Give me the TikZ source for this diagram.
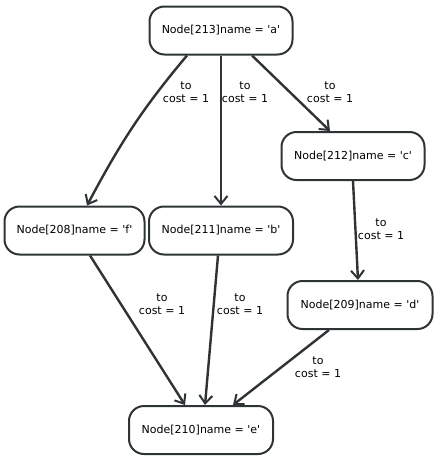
\documentclass[tikz,border=0pt]{standalone}
\usepackage{fontspec}
\setmainfont{DejaVu Sans}
\usetikzlibrary{arrows.meta}
\definecolor{ink}{HTML}{2E3436}
% straight apostrophe, kept out of the curly-quote mapping
\newcommand{\sq}{\textquotesingle}
\begin{document}
\begin{tikzpicture}[x=1pt,y=-1pt,
  statebox/.style={draw=ink,line width=2pt,rounded corners=15pt,fill=white,
    minimum width=143pt,minimum height=48pt,inner sep=0pt,
    font=\fontsize{11}{13}\selectfont,text=black},
  edge/.style={draw=ink,line width=2.4pt,
    -{Straight Barb[length=8pt,width=13pt,line width=2pt]}},
  elabel/.style={align=center,font=\fontsize{11}{13}\selectfont,text=black,inner sep=0pt}]
\useasboundingbox (0,0) rectangle (436,461);

\node[statebox] (a) at (221,30.5) {Node[213]name = \sq a\sq};
\node[statebox] (c) at (353,156) {Node[212]name = \sq c\sq};
\node[statebox,minimum width=145pt] (d) at (360,305) {Node[209]name = \sq d\sq};
\node[statebox,minimum width=140pt] (f) at (74.5,230.5) {Node[208]name = \sq f\sq};
\node[statebox,minimum width=144pt] (b) at (221,230.5) {Node[211]name = \sq b\sq};
\node[statebox,minimum width=144pt] (e) at (201,430) {Node[210]name = \sq e\sq};

% edges leaving a
\draw[edge] ([xshift=-34pt]a.south) to[out=-130,in=62] ([xshift=12.5pt]f.north);
\draw[edge] (a) -- (b);
\draw[edge] ([xshift=31pt]a.south) -- ([xshift=-23pt]c.north);
% c to d
\draw[edge] (c.south) -- ([xshift=-2pt]d.north);
% edges into e
\draw[edge] ([xshift=15.5pt]f.south) -- ([xshift=-16pt]e.north);
\draw[edge] ([xshift=-3pt]b.south) -- ([xshift=4pt]e.north);
\draw[edge] ([xshift=-31pt]d.south) -- ([xshift=32pt]e.north);

% cost labels
\node[elabel] (laf) at (186,92.5) {to\\cost = 1};
\node[elabel] (lab) at (245,92.5) {to\\cost = 1};
\node[elabel] (lac) at (330,92.5) {to\\cost = 1};
\node[elabel] (lcd) at (381,229.5) {to\\cost = 1};
\node[elabel] (lfe) at (162,304.5) {to\\cost = 1};
\node[elabel] (lbe) at (240,304.5) {to\\cost = 1};
\node[elabel] (lde) at (318,367) {to\\cost = 1};
\end{tikzpicture}
\end{document}
